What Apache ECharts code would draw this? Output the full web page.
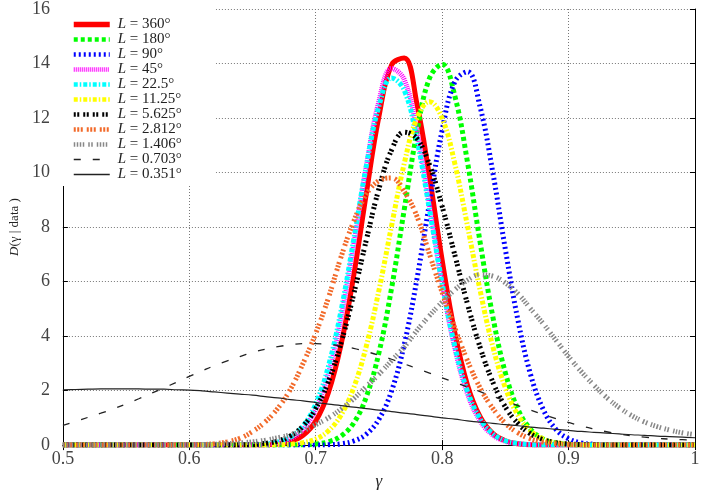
<!DOCTYPE html>
<html>
<head>
<meta charset="utf-8">
<script src="https://cdn.jsdelivr.net/npm/echarts@6/dist/echarts.min.js"></script>
<style>
    html, body { margin: 0; padding: 0; background: #fff; }
    #chart { width: 704px; height: 495px; }
</style>
</head>
<body>
<div id="chart"></div>
<script>
// gamma grid, every 0.01
const gamma = [
    0.50, 0.51, 0.52, 0.53, 0.54, 0.55, 0.56, 0.57, 0.58, 0.59,
    0.60, 0.61, 0.62, 0.63, 0.64, 0.65, 0.66, 0.67, 0.68, 0.69,
    0.70, 0.71, 0.72, 0.73, 0.74, 0.75, 0.76, 0.77, 0.78, 0.79,
    0.80, 0.81, 0.82, 0.83, 0.84, 0.85, 0.86, 0.87, 0.88, 0.89,
    0.90, 0.91, 0.92, 0.93, 0.94, 0.95, 0.96, 0.97, 0.98, 0.99,
    1.00
];
const xTicks = [0.5, 0.6, 0.7, 0.8, 0.9, 1];
const yTicks = [0, 2, 4, 6, 8, 10, 12, 14, 16];

const names = [
    'L = 360°', 'L = 180°', 'L = 90°', 'L = 45°', 'L = 22.5°', 'L = 11.25°',
    'L = 5.625°', 'L = 2.812°', 'L = 1.406°', 'L = 0.703°', 'L = 0.351°'
];

const L360 = [
    0, 0, 0, 0, 0, 0, 0, 0, 0, 0,
    0, 0, 0, 0, 0, 0, 0.01, 0.04, 0.13, 0.36,
    0.88, 1.92, 3.68, 6.21, 9.23, 12.06, 13.95, 14.2, 12.53, 9.84,
    6.79, 4.13, 2.21, 1.04, 0.43, 0.16, 0.05, 0.01, 0, 0,
    0, 0, 0, 0, 0, 0, 0, 0, 0, 0,
    0
];
const L180 = [
    0, 0, 0, 0, 0, 0, 0, 0, 0, 0,
    0, 0, 0, 0, 0, 0, 0, 0, 0, 0.01,
    0.04, 0.12, 0.33, 0.81, 1.77, 3.39, 5.76, 8.64, 11.47, 13.46,
    13.97, 12.81, 10.39, 7.45, 4.73, 2.65, 1.31, 0.58, 0.22, 0.08,
    0.02, 0, 0, 0, 0, 0, 0, 0, 0, 0,
    0
];
const L90 = [
    0, 0, 0, 0, 0, 0, 0, 0, 0, 0,
    0, 0, 0, 0, 0, 0, 0, 0, 0, 0,
    0, 0.01, 0.05, 0.15, 0.40, 0.95, 1.99, 3.69, 6.08, 8.89,
    11.55, 13.33, 13.7, 12.41, 10.02, 7.18, 4.57, 2.58, 1.30, 0.58,
    0.23, 0.08, 0.03, 0.01, 0, 0, 0, 0, 0, 0,
    0
];
const L45 = [
    0, 0, 0, 0, 0, 0, 0, 0, 0, 0,
    0, 0, 0, 0, 0, 0.01, 0.02, 0.08, 0.23, 0.58,
    1.32, 2.63, 4.67, 7.34, 10.22, 12.62, 13.82, 13.41, 11.53, 8.79,
    5.94, 3.56, 1.89, 0.89, 0.37, 0.14, 0.05, 0.01, 0, 0,
    0, 0, 0, 0, 0, 0, 0, 0, 0, 0,
    0
];
const L22 = [
    0, 0, 0, 0, 0, 0, 0, 0, 0, 0,
    0, 0, 0, 0, 0, 0.01, 0.04, 0.11, 0.29, 0.70,
    1.51, 2.89, 4.93, 7.53, 10.24, 12.44, 13.47, 13.02, 11.22, 8.63,
    5.92, 3.63, 1.98, 0.97, 0.42, 0.16, 0.06, 0.02, 0, 0,
    0, 0, 0, 0, 0, 0, 0, 0, 0, 0,
    0
];
const L11 = [
    0, 0, 0, 0, 0, 0, 0, 0, 0, 0,
    0, 0, 0, 0, 0, 0, 0, 0.01, 0.03, 0.09,
    0.22, 0.52, 1.10, 2.10, 3.63, 5.68, 8.05, 10.33, 11.99, 12.6,
    11.99, 10.33, 8.05, 5.68, 3.63, 2.10, 1.10, 0.52, 0.22, 0.09,
    0.03, 0.01, 0, 0, 0, 0, 0, 0, 0, 0,
    0
];
const L5 = [
    0, 0, 0, 0, 0, 0, 0, 0, 0, 0,
    0, 0, 0, 0, 0.01, 0.02, 0.06, 0.15, 0.34, 0.70,
    1.34, 2.33, 3.74, 5.53, 7.52, 9.41, 10.83, 11.48, 11.25, 10.28,
    8.76, 6.98, 5.18, 3.59, 2.32, 1.40, 0.79, 0.41, 0.20, 0.09,
    0.04, 0.02, 0.01, 0, 0, 0, 0, 0, 0, 0,
    0
];
const L2 = [
    0, 0, 0, 0, 0, 0, 0, 0, 0, 0,
    0.01, 0.02, 0.05, 0.12, 0.25, 0.5, 0.85, 1.35, 2.05, 3.0,
    4.1, 5.4, 6.9, 8.2, 9.2, 9.7, 9.8, 9.3, 8.4, 7.0,
    5.6, 4.3, 3.1, 2.1, 1.35, 0.8, 0.45, 0.23, 0.11, 0.05,
    0.02, 0.01, 0, 0, 0, 0, 0, 0, 0, 0,
    0
];
const L1 = [
    0, 0, 0, 0, 0, 0, 0, 0, 0, 0,
    0.01, 0.02, 0.03, 0.05, 0.08, 0.12, 0.18, 0.27, 0.38, 0.53,
    0.75, 1.0, 1.32, 1.7, 2.15, 2.6, 3.1, 3.6, 4.2, 4.75,
    5.25, 5.7, 6.05, 6.25, 6.2, 5.95, 5.55, 5.0, 4.45, 3.85,
    3.25, 2.7, 2.2, 1.75, 1.38, 1.08, 0.85, 0.68, 0.55, 0.45,
    0.38
];
const L07 = [
    0.72, 0.87, 1.02, 1.17, 1.33, 1.51, 1.70, 1.90, 2.1, 2.31,
    2.52, 2.72, 2.92, 3.09, 3.25, 3.4, 3.52, 3.61, 3.68, 3.72,
    3.72, 3.7, 3.64, 3.55, 3.43, 3.3, 3.15, 2.98, 2.81, 2.64,
    2.47, 2.3, 2.13, 1.96, 1.79, 1.62, 1.45, 1.28, 1.12, 0.97,
    0.83, 0.7, 0.59, 0.49, 0.41, 0.34, 0.29, 0.25, 0.22, 0.2,
    0.18
];
const L035 = [
    2.03, 2.04, 2.05, 2.06, 2.06, 2.06, 2.06, 2.05, 2.05, 2.03,
    2.02, 1.99, 1.95, 1.91, 1.87, 1.83, 1.78, 1.73, 1.67, 1.62,
    1.56, 1.5, 1.45, 1.39, 1.34, 1.28, 1.23, 1.17, 1.12, 1.06,
    1.0, 0.95, 0.89, 0.84, 0.8, 0.75, 0.71, 0.66, 0.62, 0.58,
    0.54, 0.5, 0.47, 0.44, 0.41, 0.38, 0.36, 0.33, 0.31, 0.29,
    0.27
];

const values = [L360, L180, L90, L45, L22, L11, L5, L2, L1, L07, L035];

const styles = [
    { color: '#ff0000', width: 5, type: 'solid' },
    { color: '#00ff00', width: 5, type: [4, 3] },
    { color: '#0000ff', width: 5, type: [2, 3] },
    { color: '#ff00ff', width: 5, type: [1, 1] },
    { color: '#00ffff', width: 5, type: [4, 2, 1.5, 2] },
    { color: '#ffff00', width: 5, type: [4, 2, 1.5, 2] },
    { color: '#000000', width: 5, type: [2, 1.5, 2, 4] },
    { color: '#f26a2a', width: 5, type: [2, 1.5, 2, 1.5, 2, 4] },
    { color: '#888888', width: 5, type: [1.5, 1.5, 1.5, 1.5, 1.5, 1.5, 1.5, 4, 1.5, 1.5, 1.5, 4] },
    { color: '#222222', width: 1.3, type: [7, 12] },
    { color: '#222222', width: 1.2, type: 'solid' }
];
const legendWidths = [5.5, 4.5, 4.5, 4.5, 4.5, 4.5, 4.5, 4.5, 4.5, 1.5, 1.5];

const serif = '"Liberation Serif", "DejaVu Serif", serif';
const tickStyle = { show: true, inside: true, length: 5, lineStyle: { color: '#000' } };
const lineAxis = { show: true, lineStyle: { color: '#000', width: 1 } };
const gridLine = { show: true, lineStyle: { color: '#777', width: 1, type: [1, 2] } };

const chart = echarts.init(document.getElementById('chart'));

chart.setOption({
    animation: false,
    grid: { left: 57, right: 9, top: 7, bottom: 40 },
    legend: {
        orient: 'vertical',
        left: 58,
        top: 8,
        padding: [9, 34, 4, 13],
        backgroundColor: '#fff',
        itemWidth: 36,
        itemHeight: 10,
        itemGap: 0,
        selectedMode: false,
        data: names.map((n, i) => ({
            name: n,
            itemStyle: { opacity: 0 },
            lineStyle: { width: legendWidths[i] }
        })),
        formatter: n => '{i|L}' + n.slice(1),
        textStyle: {
            fontFamily: serif,
            fontSize: 15,
            lineHeight: 13.8,
            color: '#222',
            padding: [0, 0, 0, 3],
            rich: { i: { fontFamily: serif, fontSize: 15, fontStyle: 'italic', lineHeight: 13.8, color: '#222' } }
        }
    },
    xAxis: [
        {
            type: 'value',
            min: xTicks[0],
            max: xTicks[xTicks.length - 1],
            interval: 0.1,
            axisLine: lineAxis,
            axisTick: tickStyle,
            splitLine: gridLine,
            axisLabel: { fontFamily: serif, fontSize: 18, color: '#444', margin: 5 },
            name: 'γ',
            nameLocation: 'middle',
            nameGap: 27,
            nameTextStyle: { fontFamily: serif, fontSize: 17, fontStyle: 'italic', color: '#222' }
        },
        {
            type: 'value',
            position: 'top',
            min: xTicks[0],
            max: xTicks[xTicks.length - 1],
            interval: 0.1,
            axisLine: lineAxis,
            axisTick: tickStyle,
            axisLabel: { show: false },
            splitLine: { show: false }
        }
    ],
    yAxis: [
        {
            type: 'value',
            min: yTicks[0],
            max: yTicks[yTicks.length - 1],
            interval: 2,
            axisLine: lineAxis,
            axisTick: tickStyle,
            splitLine: gridLine,
            axisLabel: { fontFamily: serif, fontSize: 18, color: '#444', margin: 13 },
            name: '{d|D}(γ | data )',
            nameLocation: 'middle',
            nameGap: 30,
            nameTextStyle: {
                fontFamily: serif, fontSize: 13, color: '#222',
                rich: { d: { fontFamily: serif, fontSize: 13, fontStyle: 'italic', color: '#222' } }
            }
        },
        {
            type: 'value',
            position: 'right',
            min: yTicks[0],
            max: yTicks[yTicks.length - 1],
            interval: 2,
            axisLine: lineAxis,
            axisTick: tickStyle,
            axisLabel: { show: false },
            splitLine: { show: false }
        }
    ],
    series: names.map((name, i) => ({
        name,
        type: 'line',
        symbol: 'none',
        smooth: 0.4,
        data: gamma.map((g, j) => [g, values[i][j]]),
        lineStyle: styles[i],
        itemStyle: { color: styles[i].color }
    }))
});
</script>
</body>
</html>
